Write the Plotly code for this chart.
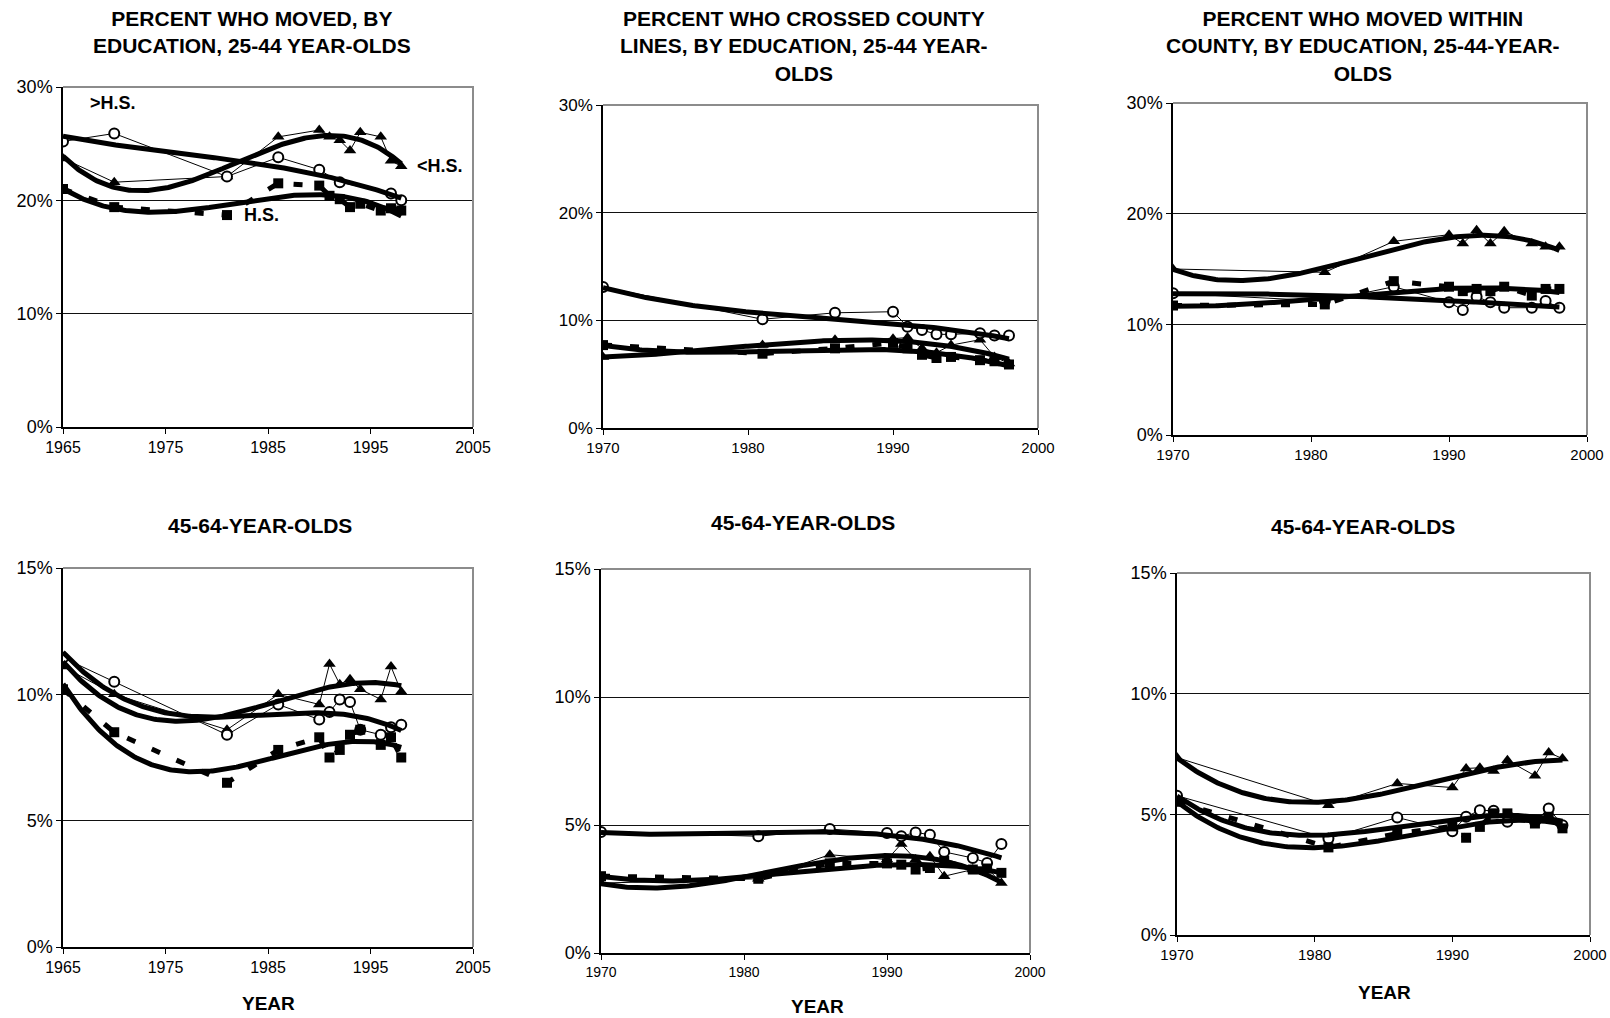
import numpy as np
import plotly.graph_objects as go

W, H = 1610, 1018
FONT = "Liberation Sans, Arial, sans-serif"

# ---------------- data (percent) ----------------
# Panel 1: percent who moved, 25-44
p1_lt_years = [1965, 1970, 1981, 1986, 1990, 1991, 1992, 1993, 1994, 1996, 1997, 1998]
p1_lt = [23.7, 21.6, 22.1, 25.6, 26.2, 25.6, 25.3, 24.4, 26.0, 25.6, 23.5, 23.0]
p1_hs_years = [1965, 1970, 1981, 1986, 1990, 1991, 1992, 1993, 1994, 1996, 1997, 1998]
p1_hs = [21.0, 19.4, 18.7, 21.5, 21.3, 20.4, 20.1, 19.4, 19.7, 19.1, 19.3, 19.1]
p1_gt_years = [1965, 1970, 1981, 1986, 1990, 1992, 1997, 1998]
p1_gt = [25.2, 25.9, 22.1, 23.8, 22.7, 21.6, 20.6, 20.0]

# Panel 2: crossed county lines, 25-44
p2_years = [1970, 1981, 1986, 1990, 1991, 1992, 1993, 1994, 1996, 1997, 1998]
p2_lt = [6.6, 7.7, 8.2, 8.3, 8.4, 7.4, 7.0, 7.7, 8.2, 6.6, 6.0]
p2_hs = [7.7, 6.9, 7.4, 7.9, 7.4, 6.8, 6.5, 6.6, 6.3, 6.2, 5.9]
p2_gt = [13.1, 10.1, 10.7, 10.8, 9.4, 9.1, 8.7, 8.7, 8.8, 8.6, 8.6]

# Panel 3: moved within county, 25-44
p3_years = [1970, 1981, 1986, 1990, 1991, 1992, 1993, 1994, 1996, 1997, 1998]
p3_lt = [15.0, 14.7, 17.5, 18.1, 17.3, 18.5, 17.3, 18.4, 17.3, 17.0, 17.0]
p3_hs = [11.7, 11.8, 13.9, 13.4, 13.0, 13.2, 13.0, 13.4, 12.6, 13.2, 13.2]
p3_gt = [12.8, 12.1, 13.4, 12.0, 11.3, 12.5, 12.0, 11.5, 11.5, 12.1, 11.5]

# Panel 4: moved, 45-64
p4_years = [1965, 1970, 1981, 1986, 1990, 1991, 1992, 1993, 1994, 1996, 1997, 1998]
p4_lt = [11.1, 10.0, 8.6, 10.0, 9.6, 11.2, 10.4, 10.6, 10.2, 9.8, 11.1, 10.1]
p4_hs = [10.2, 8.5, 6.5, 7.8, 8.3, 7.5, 7.8, 8.4, 8.6, 8.0, 8.3, 7.5]
p4_gt = [11.45, 10.5, 8.4, 9.6, 9.0, 9.3, 9.8, 9.7, 8.6, 8.4, 8.7, 8.8]

# Panel 5: crossed county lines, 45-64
p5_years = [1970, 1981, 1986, 1990, 1991, 1992, 1993, 1994, 1996, 1997, 1998]
p5_lt = [2.73, 2.9, 3.84, 3.65, 4.26, 3.65, 3.78, 3.0, 3.26, 3.32, 2.73]
p5_hs = [3.0, 2.9, 3.5, 3.5, 3.45, 3.26, 3.32, 3.6, 3.26, 3.3, 3.13]
p5_gt = [4.73, 4.56, 4.84, 4.69, 4.56, 4.71, 4.62, 3.95, 3.71, 3.52, 4.26]

# Panel 6: moved within county, 45-64
p6_years = [1970, 1981, 1986, 1990, 1991, 1992, 1993, 1994, 1996, 1997, 1998]
p6_lt = [7.35, 5.38, 6.28, 6.11, 6.9, 6.93, 6.8, 7.24, 6.6, 7.56, 7.31]
p6_hs = [5.52, 3.63, 4.2, 4.5, 4.03, 4.48, 5.04, 5.04, 4.62, 4.9, 4.42]
p6_gt = [5.77, 4.0, 4.87, 4.3, 4.9, 5.17, 5.15, 4.69, 4.7, 5.24, 4.55]

titles_top = [
    "PERCENT WHO MOVED, BY<br>EDUCATION, 25-44 YEAR-OLDS",
    "PERCENT WHO CROSSED COUNTY<br>LINES, BY EDUCATION, 25-44 YEAR-<br>OLDS",
    "PERCENT WHO MOVED WITHIN<br>COUNTY, BY EDUCATION, 25-44-YEAR-<br>OLDS",
]
title_bottom = "45-64-YEAR-OLDS"

panels = [
    dict(lt=(p1_lt_years, p1_lt), hs=(p1_hs_years, p1_hs), gt=(p1_gt_years, p1_gt),
         xr=[1965, 2005], yr=[0, 30], dy=10, box=(63, 473, 87, 427), xfs=16, yfs=18),
    dict(lt=(p2_years, p2_lt), hs=(p2_years, p2_hs), gt=(p2_years, p2_gt),
         xr=[1970, 2000], yr=[0, 30], dy=10, box=(603, 1038, 105, 428), xfs=15, yfs=17),
    dict(lt=(p3_years, p3_lt), hs=(p3_years, p3_hs), gt=(p3_years, p3_gt),
         xr=[1970, 2000], yr=[0, 30], dy=10, box=(1173, 1587, 103, 435), xfs=15, yfs=18),
    dict(lt=(p4_years, p4_lt), hs=(p4_years, p4_hs), gt=(p4_years, p4_gt),
         xr=[1965, 2005], yr=[0, 15], dy=5, box=(63, 473, 568, 947), xfs=16, yfs=18),
    dict(lt=(p5_years, p5_lt), hs=(p5_years, p5_hs), gt=(p5_years, p5_gt),
         xr=[1970, 2000], yr=[0, 15], dy=5, box=(601, 1030, 569, 953), xfs=14, yfs=18),
    dict(lt=(p6_years, p6_lt), hs=(p6_years, p6_hs), gt=(p6_years, p6_gt),
         xr=[1970, 2000], yr=[0, 15], dy=5, box=(1177, 1590, 573, 935), xfs=15, yfs=18),
]

fig = go.Figure()
layout = dict(width=W, height=H, margin=dict(l=0, r=0, t=0, b=0, autoexpand=False),
              paper_bgcolor="white", plot_bgcolor="white", showlegend=False,
              font=dict(family=FONT, color="black"), template="none")
shapes, annotations = [], []


def trend(xs, ys, deg=3):
    xs = np.asarray(xs, float)
    ys = np.asarray(ys, float)
    c = np.polyfit(xs - 1980.0, ys, deg)
    xx = np.linspace(xs.min(), xs.max(), 200)
    return xx, np.polyval(c, xx - 1980.0)


for i, p in enumerate(panels, start=1):
    xa = "x" if i == 1 else f"x{i}"
    ya = "y" if i == 1 else f"y{i}"
    x0, x1, yt, yb = p["box"]
    layout["xaxis" if i == 1 else f"xaxis{i}"] = dict(
        domain=[x0 / W, x1 / W], anchor=ya, range=p["xr"], dtick=10, tick0=p["xr"][0],
        showgrid=False, zeroline=False, showline=True, linecolor="black", linewidth=1.5,
        ticks="outside", ticklen=5, tickcolor="black", tickfont=dict(size=p["xfs"], family=FONT),
        automargin=False, fixedrange=True)
    layout["yaxis" if i == 1 else f"yaxis{i}"] = dict(
        domain=[1 - yb / H, 1 - yt / H], anchor=xa, range=p["yr"], dtick=p["dy"],
        ticksuffix="%", showgrid=True, gridcolor="#111", gridwidth=1, zeroline=False,
        showline=True, linecolor="black", linewidth=1.5, ticks="outside", ticklen=5,
        tickcolor="black", tickfont=dict(size=p["yfs"], family=FONT),
        automargin=False, fixedrange=True)
    # gray top/right frame
    shapes.append(dict(type="path", xref=f"{xa} domain", yref=f"{ya} domain",
                       path="M 0 1 L 1 1 L 1 0", line=dict(color="#8c8c8c", width=2),
                       layer="above"))

    # thin data lines with markers
    lx, ly = p["lt"]
    fig.add_trace(go.Scatter(x=lx, y=ly, xaxis=xa, yaxis=ya, mode="lines+markers",
                             line=dict(color="black", width=1),
                             marker=dict(symbol="triangle-up", size=11, color="black")))
    gx, gy = p["gt"]
    fig.add_trace(go.Scatter(x=gx, y=gy, xaxis=xa, yaxis=ya, mode="lines+markers",
                             line=dict(color="black", width=1),
                             marker=dict(symbol="circle", size=10, color="white",
                                         line=dict(color="black", width=2))))
    hx, hy = p["hs"]
    fig.add_trace(go.Scatter(x=hx, y=hy, xaxis=xa, yaxis=ya, mode="lines+markers",
                             line=dict(color="black", width=5, dash="9px,18px"),
                             marker=dict(symbol="square", size=10, color="black")))
    # thick polynomial trend lines
    for xs, ys in (p["lt"], p["gt"], p["hs"]):
        tx, ty = trend(xs, ys)
        fig.add_trace(go.Scatter(x=tx, y=ty, xaxis=xa, yaxis=ya, mode="lines",
                                 line=dict(color="black", width=5), hoverinfo="skip"))

# titles
tfont = dict(family=FONT, size=21, color="black")
for cx, cy, txt in zip([252, 804, 1363], [32, 46, 46], titles_top):
    annotations.append(dict(xref="paper", yref="paper", x=cx / W, y=1 - cy / H,
                            xanchor="center", yanchor="middle", text=f"<b>{txt}</b>",
                            showarrow=False, font=tfont, align="center"))
for cx, cy in [(260, 525), (803, 522), (1363, 526)]:
    annotations.append(dict(xref="paper", yref="paper", x=cx / W, y=1 - cy / H,
                            xanchor="center", yanchor="middle", text=f"<b>{title_bottom}</b>",
                            showarrow=False, font=tfont))
for cx, cy in [(268, 1003), (817, 1006), (1384, 992)]:
    annotations.append(dict(xref="paper", yref="paper", x=cx / W, y=1 - cy / H,
                            xanchor="center", yanchor="middle", text="<b>YEAR</b>",
                            showarrow=False, font=dict(family=FONT, size=19, color="black")))

# series labels in panel 1
lfont = dict(family=FONT, size=18, color="black")
for tx, ty, txt in [(1969.9, 28.6, "&gt;H.S."), (2001.8, 23.0, "&lt;H.S."), (1984.4, 18.7, "H.S.")]:
    annotations.append(dict(xref="x", yref="y", x=tx, y=ty, text=f"<b>{txt}</b>",
                            showarrow=False, font=lfont, xanchor="center", yanchor="middle"))

layout["shapes"] = shapes
layout["annotations"] = annotations
fig.update_layout(**layout)
fig.write_html("out.html")
